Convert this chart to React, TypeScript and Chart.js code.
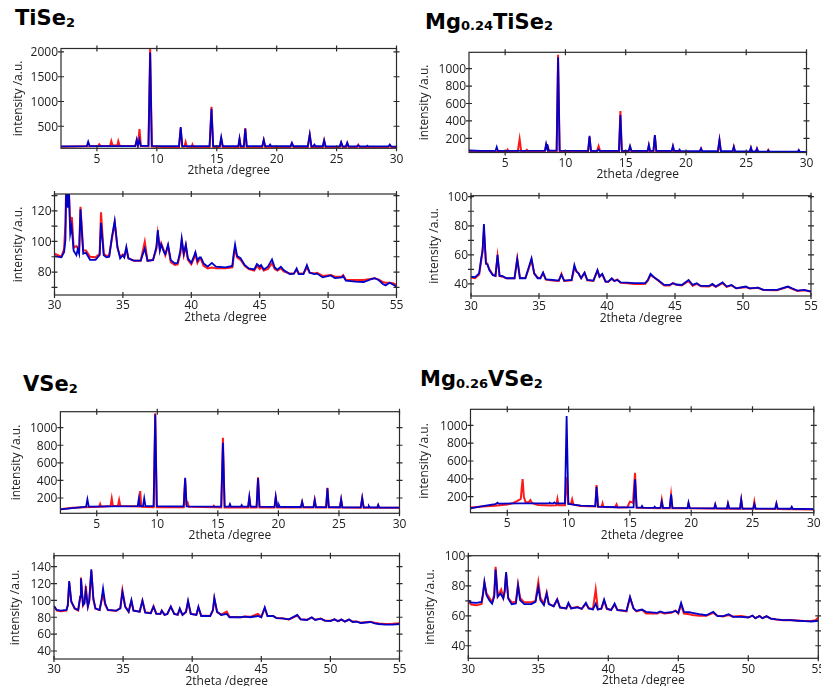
import React, { useEffect, useRef } from 'react';
import { Chart, registerables } from 'chart.js';

Chart.register(...registerables);

type Pt = [number, number];

// ---------- tick values ----------
const lowAngleTicks = [5, 10, 15, 20, 25, 30];
const highAngleTicks = [30, 35, 40, 45, 50, 55];
const tiTopLabels = [500, 1000, 1500, 2000];
const twoHundredLabels = [200, 400, 600, 800, 1000];
const tiLowLabels = [80, 100, 120];
const tiLowMarks = [70, 80, 90, 100, 110, 120, 130];
const fortyToHundredLabels = [40, 60, 80, 100];
const fortyToHundredMarks = [40, 50, 60, 70, 80, 90, 100];
const vLowLabels = [40, 60, 80, 100, 120, 140];

// ---------- TiSe2, 2-30 ----------
const tiSe2LowAngleBlue: Pt[] = [[2,95],[4.15,97],[4.27,190],[4.4,97],[8.2,100],[8.32,230],[8.42,110],[8.55,230],[8.65,105],[9.3,105],[9.44,1990],[9.58,105],[10.5,100],[11.85,100],[11.99,485],[12.12,100],[14.4,100],[14.56,855],[14.7,100],[15.25,100],[15.37,280],[15.5,100],[16.8,100],[16.9,255],[17.0,100],[17.26,100],[17.38,450],[17.5,100],[18.8,98],[18.92,225],[19.04,98],[19.35,98],[19.45,130],[19.55,98],[21.15,96],[21.27,165],[21.4,96],[22.6,96],[22.76,335],[22.9,96],[23.05,96],[23.15,130],[23.25,96],[23.85,96],[23.96,215],[24.08,96],[25.27,95],[25.38,180],[25.5,95],[25.78,95],[25.89,165],[26.0,95],[26.7,94],[26.81,115],[26.92,94],[27.5,94],[27.57,110],[27.65,94],[29.32,92],[29.44,130],[29.56,92],[30,90]];
const tiSe2LowAngleRed: Pt[] = [[2,85],[5.1,100],[5.19,135],[5.3,100],[6.1,105],[6.2,200],[6.3,110],[6.7,110],[6.78,200],[6.9,105],[8.2,100],[8.32,210],[8.42,120],[8.55,445],[8.67,100],[9.3,95],[9.44,2060],[9.58,90],[10.5,80],[11.85,80],[11.99,460],[12.12,85],[12.3,85],[12.4,180],[12.5,85],[12.9,80],[12.97,130],[13.05,80],[14.4,80],[14.56,895],[14.7,80],[15.25,80],[15.37,240],[15.5,80],[16.8,80],[16.9,235],[17.0,80],[17.26,80],[17.38,465],[17.5,80],[18.8,80],[18.92,215],[19.04,80],[21.15,80],[21.27,150],[21.4,80],[22.6,80],[22.76,320],[22.9,80],[23.85,80],[23.96,210],[24.08,80],[25.27,80],[25.38,165],[25.5,80],[25.78,80],[25.89,160],[26.0,80],[26.7,80],[26.81,125],[26.92,80],[29.32,80],[29.44,115],[29.56,80],[30,80]];

// ---------- Mg0.24TiSe2, 2-30 ----------
const mgTiLowAngleBlue: Pt[] = [[2,60],[3,55],[4.2,55],[4.3,100],[4.4,55],[8.3,58],[8.4,135],[8.46,100],[8.52,112],[8.6,58],[9.27,58],[9.39,1130],[9.52,58],[11.88,55],[12.0,227],[12.12,55],[12.65,55],[12.75,70],[12.85,55],[14.44,55],[14.56,468],[14.68,55],[15.25,55],[15.36,112],[15.48,55],[16.82,55],[16.92,123],[17.02,55],[17.3,55],[17.42,238],[17.54,55],[18.82,55],[18.92,112],[19.02,55],[19.4,55],[19.47,70],[19.55,55],[21.15,52],[21.25,81],[21.35,52],[22.65,52],[22.78,181],[22.9,52],[23.87,52],[23.97,104],[24.07,52],[25.3,50],[25.39,93],[25.48,50],[25.8,50],[25.89,81],[25.98,50],[26.75,48],[26.83,62],[26.92,48],[29.28,47],[29.36,66],[29.45,47],[30,42]];
const mgTiLowAngleRed: Pt[] = [[2,58],[2.5,45],[4,46],[5.1,48],[5.2,70],[5.3,48],[6.05,52],[6.2,192],[6.33,52],[6.7,52],[6.8,68],[6.9,50],[8.3,50],[8.4,120],[8.48,90],[8.56,100],[8.64,50],[9.27,48],[9.39,1160],[9.52,46],[11.88,45],[12.0,215],[12.12,45],[12.6,46],[12.75,112],[12.9,46],[14.44,45],[14.56,514],[14.68,45],[15.25,45],[15.36,100],[15.48,45],[16.82,45],[16.92,115],[17.02,45],[17.3,45],[17.42,230],[17.54,45],[18.82,45],[18.92,105],[19.02,45],[21.15,44],[21.25,81],[21.35,44],[22.65,44],[22.78,175],[22.9,44],[23.87,44],[23.97,100],[24.07,44],[25.3,43],[25.39,88],[25.48,43],[25.8,43],[25.89,81],[25.98,43],[26.75,42],[26.83,65],[26.92,42],[29.28,42],[29.36,60],[29.45,42],[30,40]];

// ---------- TiSe2, 30-55 ----------
const tiSe2HighAngleBlue: Pt[] = [[30,90.4],[30.5,89.6],[30.7,93],[30.8,101],[30.85,135],[30.97,122],[31.05,135],[31.15,105],[31.25,110],[31.4,94],[31.6,91],[31.7,95],[31.8,92],[31.9,121],[32.1,92],[32.3,92.6],[32.6,88],[33.0,88],[33.3,91],[33.4,112],[33.6,91],[33.8,89.6],[34.0,90],[34.2,103],[34.4,113.5],[34.6,96.5],[34.8,89],[35.0,91],[35.1,89.6],[35.25,96.5],[35.4,89],[35.8,87.4],[36.3,87.4],[36.6,95.4],[36.8,87.4],[37.2,87.8],[37.45,96.5],[37.55,107.4],[37.7,94],[37.8,98],[38.0,93],[38.1,91.7],[38.3,98],[38.5,87.8],[38.8,85.6],[39.0,86],[39.2,94],[39.3,102],[39.45,92],[39.6,98],[39.75,89],[40.0,86],[40.2,90.4],[40.3,93],[40.45,87.4],[40.6,89.6],[40.7,89.6],[40.9,85.6],[41.2,83.5],[41.5,86],[41.8,83.5],[42.5,83],[43.0,84],[43.1,92],[43.2,98],[43.35,90.4],[43.6,89],[43.9,84.6],[44.2,82.4],[44.6,81.7],[44.8,85.2],[45.0,83.5],[45.1,84.6],[45.3,81.7],[45.6,83.5],[45.9,88.3],[46.1,83],[46.3,81.5],[46.55,83.5],[46.75,81.3],[47.2,78.7],[47.5,79],[47.7,82.4],[47.85,78.7],[48.2,78.7],[48.45,84.6],[48.65,79.6],[49.0,78.7],[49.2,79],[49.6,76.5],[50.2,77.8],[50.5,76],[51.0,76.5],[51.1,77.4],[51.3,74.3],[52.0,73.7],[52.6,73.5],[53.1,75.2],[53.4,76],[53.7,74.8],[54.0,72.2],[54.2,71.3],[54.5,73],[54.8,71.5],[55,70.4]];
const tiSe2HighAngleRed: Pt[] = [[30,92],[30.5,90],[30.7,95],[30.8,112],[30.85,135],[30.97,125],[31.05,135],[31.15,108],[31.27,116],[31.4,96],[31.6,97],[31.8,94],[31.9,122.6],[32.1,94],[32.3,94],[32.6,90],[33.0,89.6],[33.3,92],[33.4,119],[33.6,92],[33.8,90.5],[34.0,91],[34.2,102],[34.4,112],[34.6,96],[34.8,90],[35.0,91.5],[35.1,90],[35.25,95],[35.4,89],[35.8,87.4],[36.3,87.4],[36.6,99.8],[36.8,87.4],[37.2,88],[37.45,95],[37.55,105],[37.7,95],[37.8,98.7],[38.0,94],[38.1,91],[38.3,97],[38.5,86.5],[38.8,84.6],[39.0,85],[39.2,92],[39.3,100],[39.45,91],[39.6,97],[39.75,88],[40.0,85],[40.2,89],[40.3,92],[40.45,86],[40.6,88.5],[40.7,88.5],[40.9,84],[41.2,82.4],[41.5,83],[41.8,82.4],[42.5,82.4],[43.0,83],[43.1,90],[43.2,95.4],[43.35,89.5],[43.6,88],[43.9,84],[44.2,82],[44.6,81],[44.8,84],[45.0,82],[45.1,83.5],[45.3,81],[45.6,82],[45.9,85.7],[46.1,82],[46.3,81],[46.55,82.5],[46.75,80.5],[47.2,79],[47.5,79],[47.7,81.5],[47.85,79],[48.2,79],[48.45,83],[48.65,79.6],[49.0,79],[49.2,79.5],[49.6,77.5],[50.2,78],[50.5,77],[51.0,77],[51.1,78],[51.3,75],[52.0,74.8],[52.6,74.8],[53.1,75.5],[53.4,76],[53.7,75],[54.0,73.5],[54.2,73],[54.5,73],[54.8,72.5],[55,71.5]];

// ---------- Mg0.24TiSe2, 30-55 ----------
const mgTiHighAngleBlue: Pt[] = [[30,45],[30.3,44.6],[30.6,47.3],[30.75,57.6],[30.85,63],[30.95,81.2],[31.1,54],[31.2,53.5],[31.35,49.6],[31.6,46],[31.8,45.5],[31.95,60],[32.1,45.5],[32.3,45.5],[32.6,43.9],[33.2,43.9],[33.4,57],[33.6,43.9],[34.0,43.9],[34.3,53],[34.45,57.6],[34.65,47.3],[34.9,43.9],[35.1,43.9],[35.3,47.8],[35.5,43.2],[36.0,42.7],[36.45,42.3],[36.65,46.2],[36.85,42.3],[37.4,42.7],[37.6,53],[37.75,48.5],[37.9,47.3],[38.1,43.9],[38.35,47.8],[38.55,42.7],[39.0,42.3],[39.3,49.6],[39.45,45],[39.65,46.9],[39.9,41.6],[40.1,41.6],[40.35,43.9],[40.55,42],[40.75,42.7],[41.0,41.1],[41.5,40.9],[42.0,40.5],[42.8,40.5],[43.0,42.7],[43.2,46.9],[43.45,44.6],[43.8,42.3],[44.2,39.3],[44.6,39.3],[44.85,40.5],[45.1,39.6],[45.5,39.3],[46.0,42.7],[46.3,39.3],[46.6,40.5],[46.9,38.6],[47.5,38.6],[47.75,40],[48.0,38.2],[48.5,41.1],[48.8,38.2],[49.15,39.3],[49.5,37],[50.2,38.2],[50.5,37],[51.1,37.5],[51.5,35.9],[52.5,35.9],[53.3,38.2],[53.6,37],[54.0,35.4],[54.5,35.9],[55,34.7]];
const mgTiHighAngleRed: Pt[] = [[30,44.5],[30.3,44],[30.6,46.5],[30.75,56],[30.85,62],[30.95,76],[31.1,54],[31.2,54],[31.35,50],[31.6,46.5],[31.8,45.5],[31.95,59],[32.1,45.5],[32.3,45],[32.6,43.9],[33.2,43.9],[33.4,57.5],[33.6,44],[34.0,44],[34.3,52],[34.45,56.5],[34.65,47],[34.9,44.5],[35.1,44],[35.3,47.5],[35.5,43],[36.0,42.3],[36.45,42],[36.65,47],[36.85,42],[37.4,42.5],[37.6,51],[37.75,49],[37.9,47.5],[38.1,44],[38.35,47.5],[38.55,42.5],[39.0,42],[39.3,49],[39.45,45],[39.65,46.5],[39.9,41.5],[40.1,41.5],[40.35,43.5],[40.55,42],[40.75,43],[41.0,40.8],[41.5,40.5],[42.0,40],[42.8,40],[43.0,42.3],[43.2,46],[43.45,44.6],[43.8,42],[44.2,39],[44.6,39],[44.85,40.5],[45.1,39.5],[45.5,39],[46.0,42],[46.3,38.8],[46.6,40],[46.9,38.4],[47.5,38.2],[47.75,39.5],[48.0,38],[48.5,40.5],[48.8,38],[49.15,39],[49.5,37],[50.2,37.8],[50.5,36.8],[51.1,37.3],[51.5,35.8],[52.5,35.6],[53.3,38],[53.6,36.6],[54.0,35.2],[54.5,35.6],[55,34.8]];

// ---------- VSe2, 2-30 ----------
const vSe2LowAngleBlue: Pt[] = [[2,71],[3,85],[4,100],[4.12,102],[4.23,185],[4.34,102],[6,105],[8.38,108],[8.48,196],[8.56,108],[8.82,108],[8.92,196],[9.02,108],[9.7,108],[9.83,1150],[9.96,108],[11,105],[12.18,105],[12.3,431],[12.42,105],[15.28,103],[15.42,829],[15.56,103],[15.92,103],[16.0,132],[16.08,103],[16.9,102],[16.97,120],[17.05,102],[17.5,102],[17.6,215],[17.7,102],[18.2,102],[18.32,424],[18.44,102],[19.68,100],[19.78,215],[19.9,100],[19.98,100],[20.05,120],[20.12,100],[21.86,98],[21.96,158],[22.06,98],[22.9,97],[23.0,177],[23.1,97],[23.94,96],[24.05,310],[24.16,96],[25.08,95],[25.18,185],[25.28,95],[26.8,93],[26.92,200],[27.04,93],[27.4,93],[27.47,110],[27.55,93],[28.16,92],[28.24,120],[28.32,92],[30,90]];
const vSe2LowAngleRed: Pt[] = [[2,71],[3,88],[4,95],[5.2,100],[5.28,132],[5.36,100],[6.14,108],[6.24,196],[6.34,108],[6.75,110],[6.85,177],[6.95,110],[8.5,105],[8.59,280],[8.68,100],[9.7,95],[9.83,1165],[9.96,95],[12.18,95],[12.3,415],[12.4,140],[12.5,150],[12.6,100],[14.6,95],[14.67,110],[14.74,95],[15.28,93],[15.42,886],[15.56,93],[17.5,93],[17.6,200],[17.7,93],[18.2,93],[18.32,435],[18.44,93],[19.68,92],[19.78,205],[19.9,92],[21.86,92],[21.96,150],[22.06,92],[22.9,92],[23.0,177],[23.1,92],[23.94,92],[24.05,317],[24.16,92],[25.08,92],[25.18,180],[25.28,92],[26.8,90],[26.92,195],[27.04,90],[28.16,90],[28.24,120],[28.32,90],[30,88]];

// ---------- Mg0.26VSe2, 2-30 ----------
const mgVLowAngleBlue: Pt[] = [[2,69],[3,95],[4,118],[4.12,122],[4.2,133],[4.3,122],[6,125],[8,125],[8.4,125],[8.46,133],[8.55,125],[8.75,125],[8.84,136],[8.95,125],[9.7,125],[9.84,1105],[9.98,120],[11,100],[12.18,95],[12.28,312],[12.4,90],[14,82],[15.3,80],[15.42,394],[15.55,80],[15.92,78],[15.99,95],[16.07,78],[16.95,76],[17.02,88],[17.1,76],[17.5,75],[17.6,144],[17.7,75],[18.25,75],[18.36,226],[18.47,75],[19.7,72],[19.78,133],[19.88,72],[21.88,70],[21.96,114],[22.05,70],[22.92,70],[23.0,125],[23.1,70],[23.98,68],[24.08,170],[24.18,68],[25.06,67],[25.15,118],[25.25,67],[26.85,66],[26.95,125],[27.05,66],[28.12,65],[28.2,88],[28.28,65],[30,62]];
const mgVLowAngleRed: Pt[] = [[2,80],[3,90],[4,100],[5,112],[5.5,130],[5.8,150],[6.1,175],[6.18,300],[6.25,398],[6.35,200],[6.5,135],[6.75,140],[6.88,163],[7.0,130],[7.5,107],[8.5,103],[9.0,105],[9.09,174],[9.18,105],[9.7,105],[9.85,420],[9.98,120],[10.2,120],[10.29,170],[10.4,110],[11,95],[12.18,90],[12.28,331],[12.4,88],[12.7,88],[12.77,125],[12.85,85],[13.8,82],[13.91,114],[14.0,80],[14.8,82],[15.0,144],[15.15,140],[15.25,130],[15.42,469],[15.55,75],[17.5,72],[17.6,163],[17.7,72],[18.25,72],[18.36,220],[18.47,72],[19.7,70],[19.78,125],[19.88,70],[21.88,67],[21.96,110],[22.05,67],[22.92,66],[23.0,120],[23.1,66],[23.98,65],[24.08,165],[24.18,65],[25.06,64],[25.15,144],[25.25,64],[26.85,62],[26.95,120],[27.05,62],[28.12,60],[28.2,80],[28.28,60],[30,58]];

// ---------- VSe2, 30-55 ----------
const vSe2HighAngleBlue: Pt[] = [[30,93.4],[30.2,88.6],[30.5,87.8],[30.9,88.6],[31.0,94.5],[31.1,123],[31.25,98.5],[31.5,90.6],[31.75,88.6],[31.9,104],[31.95,126],[32.1,94.5],[32.2,96.5],[32.3,112],[32.45,92.6],[32.55,100],[32.7,137],[32.85,102],[33.0,90.6],[33.3,88.6],[33.45,102],[33.55,114],[33.7,96.5],[33.9,88.6],[34.5,87.8],[34.8,90.6],[34.95,110],[35.15,92.6],[35.4,86.6],[35.6,100.5],[35.75,87.8],[36.2,86.6],[36.4,99.7],[36.6,85.5],[37.0,84.7],[37.2,92.6],[37.4,83.9],[37.7,83.9],[37.8,87.8],[38.0,82.7],[38.2,83.9],[38.45,92.6],[38.7,83.9],[38.95,83],[39.1,90.6],[39.3,82.7],[39.55,86.6],[39.7,99.7],[39.9,83.9],[40.3,82.7],[40.45,92.6],[40.65,81.5],[41.3,81.5],[41.5,88.6],[41.6,103],[41.8,86.6],[42.1,82.7],[42.5,83.9],[42.7,80],[43.5,80],[43.8,80.7],[44.2,80],[44.75,81.5],[45.0,80],[45.25,91.8],[45.45,81.5],[45.85,81.5],[46.1,79],[46.5,78.7],[47.0,77.5],[47.6,82.7],[47.85,77.5],[48.3,76.8],[48.65,80],[48.9,76.8],[49.3,78.3],[49.6,76],[50.0,75.6],[50.3,77.5],[50.55,75.2],[50.8,77.5],[51.05,74.8],[51.35,77.5],[51.6,74.4],[51.9,74.8],[52.2,73.2],[52.9,74.4],[53.2,72.8],[53.5,72],[54.0,71.2],[54.5,71.2],[55,72]];
const vSe2HighAngleRed: Pt[] = [[30,93],[30.2,88],[30.5,87.2],[30.9,88],[31.0,94],[31.1,121],[31.25,99],[31.5,90],[31.75,88],[31.9,105],[31.95,127],[32.1,94],[32.2,97],[32.3,117],[32.45,93],[32.55,99],[32.7,135],[32.85,101],[33.0,90],[33.3,88.5],[33.45,100],[33.55,108],[33.7,95],[33.9,88.5],[34.5,87.5],[34.8,91],[34.95,112],[35.15,93],[35.4,86.6],[35.6,99],[35.75,88],[36.2,86.6],[36.4,99.7],[36.6,86],[37.0,85],[37.2,93],[37.4,84.5],[37.7,84],[37.8,88],[38.0,83],[38.2,84],[38.45,92.6],[38.7,84],[38.95,83],[39.1,89],[39.3,83],[39.55,86],[39.7,98],[39.9,84],[40.3,83],[40.45,91],[40.65,82],[41.3,81.5],[41.5,88],[41.6,102],[41.8,86],[42.1,83],[42.5,86.6],[42.7,80.5],[43.5,80],[43.8,81],[44.2,80.5],[44.75,84],[45.0,80.5],[45.25,90.5],[45.45,81.5],[45.85,81.5],[46.1,79],[46.5,78.7],[47.0,77.5],[47.6,82],[47.85,77.5],[48.3,77],[48.65,79.5],[48.9,77],[49.3,78.5],[49.6,76],[50.0,76],[50.3,77.5],[50.55,75.5],[50.8,77],[51.05,75],[51.35,77],[51.6,75],[51.9,75],[52.2,73.5],[52.9,74.8],[53.2,73.5],[53.5,72.5],[54.0,72],[54.5,72.3],[55,72.8]];

// ---------- Mg0.26VSe2, 30-55 ----------
const mgVHighAngleBlue: Pt[] = [[30,70.4],[30.2,68.9],[30.6,68.7],[30.95,69.3],[31.05,74.9],[31.15,82.7],[31.3,73.8],[31.5,70.4],[31.7,68.2],[31.85,72.7],[31.95,90.9],[32.1,72.7],[32.3,74.9],[32.5,71.6],[32.6,77],[32.7,89.3],[32.85,71.6],[33.1,67.8],[33.4,68.2],[33.55,80.4],[33.7,70.4],[34.0,67.8],[34.5,67.8],[34.8,69.3],[35.0,79.3],[35.15,70.4],[35.4,67.1],[35.6,74.9],[35.75,67.8],[36.1,66.4],[36.35,70.9],[36.55,65.6],[37.0,64.9],[37.15,68.7],[37.35,64.9],[37.8,65.6],[38.1,64.7],[38.4,68.7],[38.6,64.9],[38.9,64.2],[39.1,68.2],[39.25,64.2],[39.5,64.9],[39.7,70.9],[39.9,64.9],[40.2,63.8],[40.45,68.2],[40.65,63.8],[41.3,63.3],[41.55,72.7],[41.8,64.9],[42.0,63.3],[42.4,64.2],[42.7,62.7],[43.5,62],[43.7,62.9],[44.0,62],[44.5,62.4],[44.8,63.3],[45.0,62],[45.2,68.7],[45.4,62.7],[45.8,62.4],[46.0,62],[46.5,61.1],[47.0,60.4],[47.5,62.7],[47.8,59.8],[48.2,59.8],[48.6,61.1],[48.9,59.3],[49.5,59.3],[50.0,58.9],[50.3,60.2],[50.5,58.4],[50.8,59.8],[51.0,58.4],[51.3,59.8],[51.6,58.2],[52.0,57.6],[52.5,57.1],[53.0,57.1],[53.5,56.7],[54.0,56.4],[54.5,56.2],[55,56.7]];
const mgVHighAngleRed: Pt[] = [[30,70],[30.2,67.5],[30.6,67],[30.95,68],[31.05,74],[31.15,82],[31.3,75],[31.5,72],[31.7,69],[31.85,74],[31.95,92.7],[32.1,73],[32.35,77.6],[32.5,72],[32.6,76],[32.7,88],[32.85,72],[33.1,69],[33.4,69.5],[33.55,81],[33.7,72],[34.0,69],[34.5,69],[34.8,70],[35.0,82.7],[35.15,72],[35.4,68],[35.6,75.6],[35.75,68],[36.1,66.5],[36.35,71],[36.55,65.5],[37.0,65],[37.15,68],[37.35,65],[37.8,66],[38.1,64.5],[38.4,68],[38.6,65],[38.9,64.5],[39.1,77.6],[39.25,64.5],[39.5,64.5],[39.7,70],[39.9,64.5],[40.2,64],[40.45,67.5],[40.65,64],[41.3,63],[41.55,72],[41.8,65],[42.0,63],[42.4,64],[42.7,61.5],[43.5,61.5],[43.7,62.5],[44.0,61.5],[44.5,62],[44.8,63.5],[45.0,61.5],[45.2,67.5],[45.4,61.5],[45.8,61],[46.0,60.5],[46.5,60],[47.0,60],[47.5,62],[47.8,60],[48.2,59.5],[48.6,60.5],[48.9,59.5],[49.5,59.8],[50.0,59],[50.3,60],[50.5,58.5],[50.8,60],[51.0,58.5],[51.3,59.5],[51.6,58.2],[52.0,57.5],[52.5,57],[53.0,57.2],[53.5,56.8],[54.0,56.5],[54.5,56.5],[54.8,57],[55,58.9]];

// ---------- styles / layout ----------
const W = 821;
const H = 686;
const RED = '#ff1a1a';
const BLUE = '#0000c8';
const TEXT = '#222';
const FONT = '"Open Sans", "DejaVu Sans", sans-serif';

interface PanelSpec {
  red: Pt[];
  blue: Pt[];
  xRange: [number, number];
  yRange: [number, number];
  xTicks: number[];
  yLabels: number[];
  yMarks: number[];
  box: [number, number, number, number]; // left, top, right, bottom
  yTitleX: number;
}

const panels: PanelSpec[] = [
  { red: tiSe2LowAngleRed, blue: tiSe2LowAngleBlue, xRange: [2, 30], yRange: [55, 2070], xTicks: lowAngleTicks, yLabels: tiTopLabels, yMarks: tiTopLabels, box: [61, 48.5, 396.5, 148.3], yTitleX: 19 },
  { red: mgTiLowAngleRed, blue: mgTiLowAngleBlue, xRange: [2, 30], yRange: [37, 1188], xTicks: lowAngleTicks, yLabels: twoHundredLabels, yMarks: twoHundredLabels, box: [469, 52.3, 806.5, 152.5], yTitleX: 425 },
  { red: tiSe2HighAngleRed, blue: tiSe2HighAngleBlue, xRange: [30, 55], yRange: [65, 131], xTicks: highAngleTicks, yLabels: tiLowLabels, yMarks: tiLowMarks, box: [54.5, 194, 396.5, 295], yTitleX: 19 },
  { red: mgTiHighAngleRed, blue: mgTiHighAngleBlue, xRange: [30, 55], yRange: [31.7, 100.7], xTicks: highAngleTicks, yLabels: fortyToHundredLabels, yMarks: fortyToHundredMarks, box: [471, 195.7, 811, 296], yTitleX: 435 },
  { red: vSe2LowAngleRed, blue: vSe2LowAngleBlue, xRange: [2, 30], yRange: [26, 1182], xTicks: lowAngleTicks, yLabels: twoHundredLabels, yMarks: twoHundredLabels, box: [60.4, 411.7, 399.5, 513.3], yTitleX: 17 },
  { red: mgVLowAngleRed, blue: mgVLowAngleBlue, xRange: [2, 30], yRange: [21, 1179], xTicks: lowAngleTicks, yLabels: twoHundredLabels, yMarks: twoHundredLabels, box: [470.5, 409.3, 813.8, 512.7], yTitleX: 425 },
  { red: vSe2HighAngleRed, blue: vSe2HighAngleBlue, xRange: [30, 55], yRange: [30.5, 153], xTicks: highAngleTicks, yLabels: vLowLabels, yMarks: vLowLabels, box: [54, 555.7, 399.5, 659], yTitleX: 16 },
  { red: mgVHighAngleRed, blue: mgVHighAngleBlue, xRange: [30, 55], yRange: [31.6, 100.2], xTicks: highAngleTicks, yLabels: fortyToHundredLabels, yMarks: fortyToHundredMarks, box: [468.3, 555.7, 818.3, 658.3], yTitleX: 430.5 },
];

function makeFramePlugin(spec: PanelSpec) {
  return {
    id: 'frameTicks',
    afterDraw(chart: any) {
      const { ctx, chartArea } = chart;
      const { left, top, right, bottom } = chartArea;
      const xs = chart.scales.x;
      const ys = chart.scales.y;
      ctx.save();
      ctx.strokeStyle = '#2a2a2a';
      ctx.lineWidth = 1.2;
      ctx.strokeRect(left, top, right - left, bottom - top);
      ctx.beginPath();
      const t = 3;
      for (const v of spec.xTicks) {
        const px = xs.getPixelForValue(v);
        ctx.moveTo(px, top - t);
        ctx.lineTo(px, top + t);
        ctx.moveTo(px, bottom - t);
        ctx.lineTo(px, bottom + t);
      }
      for (const v of spec.yMarks) {
        const py = ys.getPixelForValue(v);
        ctx.moveTo(left - t, py);
        ctx.lineTo(left + t, py);
        ctx.moveTo(right - t, py);
        ctx.lineTo(right + t, py);
      }
      ctx.stroke();

      // tick labels
      ctx.fillStyle = TEXT;
      ctx.font = `12px ${FONT}`;
      ctx.textBaseline = 'alphabetic';
      ctx.textAlign = 'center';
      for (const v of spec.xTicks) {
        ctx.fillText(String(v), xs.getPixelForValue(v), bottom + 14.4);
      }
      ctx.textAlign = 'right';
      for (const v of spec.yLabels) {
        ctx.fillText(String(v), left - 3, ys.getPixelForValue(v) + 4.3);
      }

      // axis titles
      ctx.textAlign = 'center';
      ctx.textBaseline = 'middle';
      ctx.fillText('2theta /degree', (left + right) / 2, bottom + 22.5);
      ctx.translate(spec.yTitleX, (top + bottom) / 2);
      ctx.rotate(-Math.PI / 2);
      ctx.fillText('intensity /a.u.', 0, 0);
      ctx.restore();
    },
  };
}

function Panel({ spec }: { spec: PanelSpec }) {
  const ref = useRef<HTMLCanvasElement | null>(null);
  useEffect(() => {
    const canvas = ref.current;
    if (!canvas) return;
    const [l, t, r, b] = spec.box;
    const chart = new Chart(canvas, {
      type: 'line',
      data: {
        datasets: [
          {
            data: spec.blue.map(([x, y]) => ({ x, y })),
            borderColor: BLUE,
            borderWidth: 1.8,
            pointRadius: 0,
            tension: 0,
            order: 0,
          },
          {
            data: spec.red.map(([x, y]) => ({ x, y })),
            borderColor: RED,
            borderWidth: 2,
            pointRadius: 0,
            tension: 0,
            order: 1,
          },
        ],
      },
      options: {
        responsive: false,
        animation: false,
        events: [],
        layout: { padding: { left: l, top: t, right: W - r, bottom: H - b }, autoPadding: false },
        plugins: { legend: { display: false }, tooltip: { enabled: false } },
        scales: {
          x: {
            type: 'linear',
            min: spec.xRange[0],
            max: spec.xRange[1],
            grid: { display: false, drawTicks: false },
            border: { display: false },
            ticks: { display: false },
            afterFit: (s: any) => { s.height = 0; },
          },
          y: {
            type: 'linear',
            min: spec.yRange[0],
            max: spec.yRange[1],
            grid: { display: false, drawTicks: false },
            border: { display: false },
            ticks: { display: false },
            afterFit: (s: any) => { s.width = 0; },
          },
        },
      } as any,
      plugins: [makeFramePlugin(spec)],
    });
    return () => chart.destroy();
  }, [spec]);
  return (
    <canvas
      ref={ref}
      width={W}
      height={H}
      style={{ position: 'absolute', left: 0, top: 0, width: W, height: H, pointerEvents: 'none' }}
    />
  );
}

const titleStyle: React.CSSProperties = {
  position: 'absolute',
  fontFamily: '"DejaVu Sans", sans-serif',
  fontWeight: 700,
  fontSize: 21,
  lineHeight: 1,
  color: '#000',
  whiteSpace: 'nowrap',
};
const subStyle: React.CSSProperties = { fontSize: 13, position: 'relative', top: 1.5 };

export default function App() {
  return (
    <div style={{ position: 'absolute', left: 0, top: 0, width: W, height: H, background: '#fff', overflow: 'hidden' }}>
      <div style={{ ...titleStyle, left: 15, top: 8.2 }}>TiSe<span style={subStyle}>2</span></div>
      <div style={{ ...titleStyle, left: 425, top: 11.5 }}>Mg<span style={subStyle}>0.24</span>TiSe<span style={subStyle}>2</span></div>
      <div style={{ ...titleStyle, left: 23, top: 374 }}>VSe<span style={subStyle}>2</span></div>
      <div style={{ ...titleStyle, left: 420, top: 369 }}>Mg<span style={subStyle}>0.26</span>VSe<span style={subStyle}>2</span></div>
      {panels.map((p, i) => (
        <Panel key={i} spec={p} />
      ))}
    </div>
  );
}
